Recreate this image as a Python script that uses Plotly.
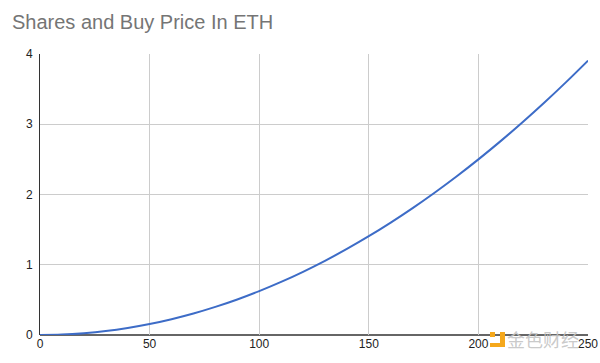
import plotly.graph_objects as go

shares = [0, 10, 20, 30, 40, 50, 60, 70, 80, 90, 100, 110, 120, 130, 140, 150,
          160, 170, 180, 190, 200, 210, 220, 230, 240, 250]
buy_price_eth = [0, 0.006, 0.025, 0.056, 0.1, 0.156, 0.225, 0.306, 0.4, 0.506,
                 0.625, 0.756, 0.9, 1.056, 1.225, 1.406, 1.6, 1.806, 2.025, 2.256,
                 2.5, 2.756, 3.025, 3.306, 3.6, 3.906]
x_ticks = [0, 50, 100, 150, 200, 250]
y_ticks = [0, 1, 2, 3, 4]

L, R, T, B = 40, 12, 54, 28
W, H = 600, 363
PW, PH = W - L - R, H - T - B


def px(xp):
    return (xp - L) / PW


def py(yp):
    return (H - B - yp) / PH


fig = go.Figure()
fig.add_trace(go.Scatter(x=shares, y=buy_price_eth, mode="lines",
                         line=dict(color="#3d6cc7", width=2, shape="spline"),
                         showlegend=False, hoverinfo="x+y", cliponaxis=False))

fig.update_layout(
    width=W, height=H,
    margin=dict(l=L, r=R, t=T, b=B),
    paper_bgcolor="white", plot_bgcolor="white",
    font=dict(family="Liberation Sans, Arial, sans-serif", size=12, color="#222222"),
    title=dict(text="Shares and Buy Price In ETH", x=12/600, xanchor="left",
               xref="container", y=1-22/363, yanchor="middle", yref="container",
               font=dict(family="Liberation Sans, Arial, sans-serif", size=20, color="#757575")),
    xaxis=dict(range=[0, 250], tickvals=x_ticks, showgrid=True, gridcolor="#cccccc",
               zeroline=False, showline=False, ticks="", automargin=False,
               tickfont=dict(size=12, color="#222222")),
    yaxis=dict(range=[0, 4], tickvals=y_ticks, showgrid=True, gridcolor="#cccccc",
               zeroline=False, showline=True, linecolor="#333333", linewidth=1,
               ticks="", ticklabelstandoff=4, automargin=False,
               tickfont=dict(size=12, color="#222222")),
)
# bottom baseline
fig.add_shape(type="line", xref="paper", yref="paper", x0=0, x1=1, y0=0, y1=0,
              line=dict(color="#333333", width=1.5), layer="below")

# watermark
orange = "#f5a81c"
for (x0, y0, x1, y1) in [(490, 332, 495, 337), (500, 332, 505, 347), (490, 343, 505, 347)]:
    fig.add_shape(type="rect", xref="paper", yref="paper",
                  x0=px(x0), x1=px(x1), y0=py(y1), y1=py(y0),
                  fillcolor=orange, line=dict(width=0))
fig.add_annotation(text="金色财经", xref="paper", yref="paper", x=px(543), y=py(339),
                   xanchor="center", yanchor="middle", showarrow=False,
                   font=dict(family="Noto Sans CJK SC", size=18, color="rgba(195,195,195,0.9)"))

fig.write_html("out.html", config={"displayModeBar": False},
               post_script="document.body.style.margin='0';document.body.style.overflow='hidden';")
